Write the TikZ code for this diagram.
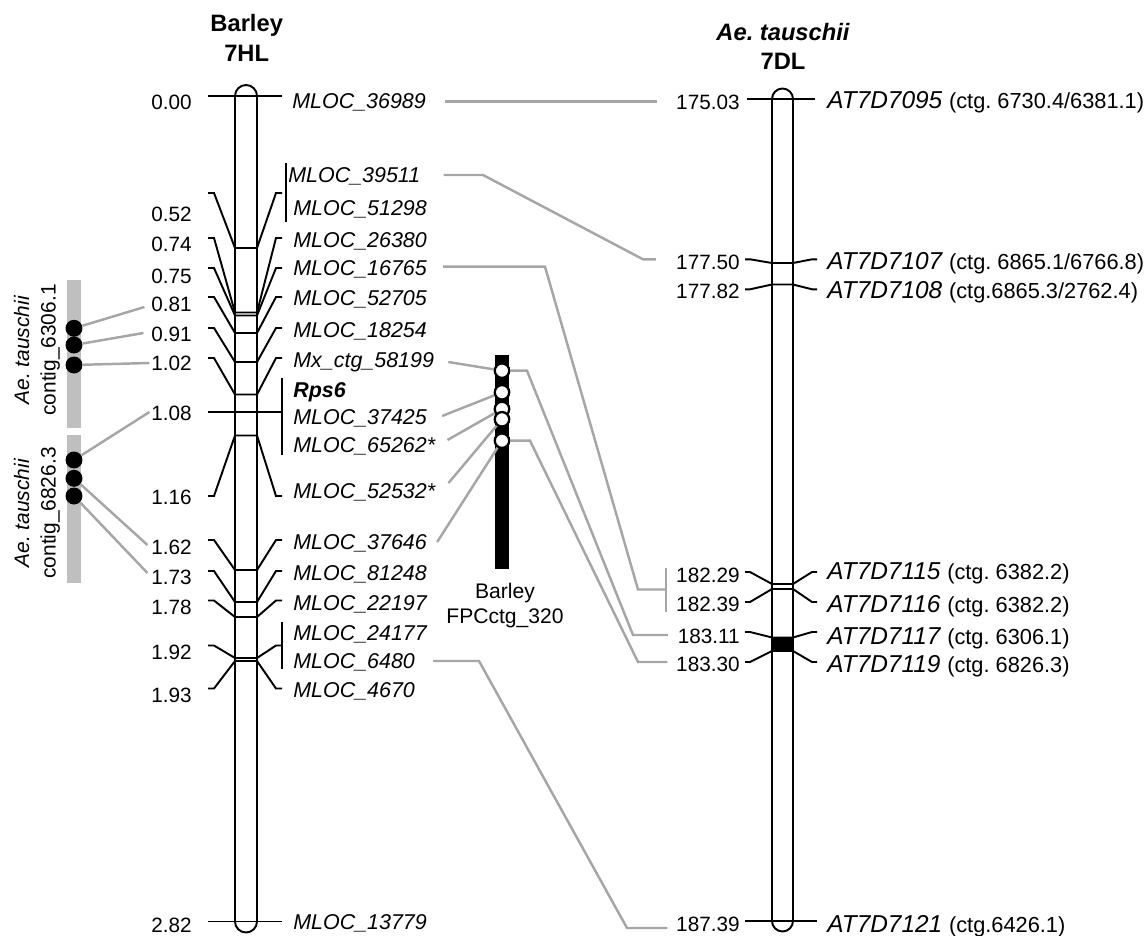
\documentclass[tikz,border=0pt]{standalone}
\usepackage{fontspec}
\setmainfont{Liberation Sans}
\usetikzlibrary{calc}
\definecolor{linkgray}{RGB}{166,166,166}
\definecolor{bargray}{RGB}{191,191,191}
\frenchspacing
\newcommand{\ctgnote}[1]{{\upshape\fontsize{12.4}{15}\selectfont #1}}

\begin{document}
\begin{tikzpicture}[x=0.02cm, y=-0.02cm,
    mapline/.style={line width=1.1pt},
    chrom/.style={draw, line width=1.1pt},
    link/.style={draw=linkgray, line width=1.4pt},
    cmlabel/.style={anchor=east, inner sep=0pt, font=\fontsize{11.8}{14}\selectfont, text height=8.45pt, text depth=0pt},
    locus/.style={anchor=west, inner sep=0pt, font=\fontsize{12.2}{14}\selectfont\itshape, text height=8.7pt, text depth=0pt},
    atlocus/.style={anchor=west, inner sep=0pt, font=\fontsize{13.9}{16}\selectfont\itshape, text height=9.95pt, text depth=0pt},
    heading/.style={inner sep=0pt, font=\fontsize{13.5}{16}\selectfont\bfseries, text height=9.7pt, text depth=0pt},
    contig/.style={inner sep=0pt, align=center, rotate=90, font=\fontsize{11.9}{15}\selectfont},
    ctgdot/.style={circle, fill=black, minimum size=0.34cm, inner sep=0pt},
    fpcdot/.style={circle, draw, fill=white, line width=1.3pt, minimum size=0.29cm, inner sep=0pt}
]
\useasboundingbox (0,0) rectangle (1146,936);

% headings
\node[heading] (tbar) at (246.7,23) {Barley};
\node[heading] (t7hl) at (246.7,52.5) {7HL};
\node[heading] (tae) at (783,31.7) {\itshape Ae. tauschii};
\node[heading] (t7dl) at (783,60.7) {7DL};

% barley 7HL
\draw[chrom] (235,96) -- (235,921.5) arc[start angle=180, end angle=360, radius=0.22cm]
    -- (257,96) arc[start angle=0, end angle=180, radius=0.22cm] -- cycle;
\draw[mapline] (208,96) -- (282,96) (208,412) -- (282,412) (208,921.5) -- (282,921.5);
\foreach \m/\s in {248/193, 312.5/238, 315.5/268, 333/297, 362/328, 394.5/358,
    435.5/496, 570/540, 602/571, 617/600.5, 658/645.5, 661/688.5}
    \draw[mapline] (208,\s) -- (214,\s) -- (235,\m) -- (257,\m) -- (276,\s) -- (282,\s);
\draw[mapline] (286,163) -- (286,222) (282,378) -- (282,455) (282,622) -- (282,669);

\node[cmlabel] (h000) at (192,102) {0.00};
\node[cmlabel] (h052) at (192,214) {0.52};
\node[cmlabel] (h074) at (192,244) {0.74};
\node[cmlabel] (h075) at (192,276) {0.75};
\node[cmlabel] (h081) at (192,304) {0.81};
\node[cmlabel] (h091) at (192,334) {0.91};
\node[cmlabel] (h102) at (192,363) {1.02};
\node[cmlabel] (h108) at (192,413) {1.08};
\node[cmlabel] (h116) at (192,497) {1.16};
\node[cmlabel] (h162) at (192,547) {1.62};
\node[cmlabel] (h173) at (192,577) {1.73};
\node[cmlabel] (h178) at (192,607) {1.78};
\node[cmlabel] (h192) at (192,652) {1.92};
\node[cmlabel] (h193) at (192,695) {1.93};
\node[cmlabel] (h282) at (192,925) {2.82};

\node[locus] (m36989) at (292,101) {MLOC\_36989};
\node[locus] (m39511) at (288,175) {MLOC\_39511};
\node[locus] (m51298) at (293,208) {MLOC\_51298};
\node[locus] (m26380) at (293,240) {MLOC\_26380};
\node[locus] (m16765) at (293,268) {MLOC\_16765};
\node[locus] (m52705) at (293,298) {MLOC\_52705};
\node[locus] (m18254) at (293,330) {MLOC\_18254};
\node[locus] (m58199) at (293,360) {Mx\_ctg\_58199};
\node[locus] (rps6) at (293,390) {\bfseries Rps6};
\node[locus] (m37425) at (293,417) {MLOC\_37425};
\node[locus] (m65262) at (293,445) {MLOC\_65262*};
\node[locus] (m52532) at (293,491) {MLOC\_52532*};
\node[locus] (m37646) at (293,542) {MLOC\_37646};
\node[locus] (m81248) at (293,573) {MLOC\_81248};
\node[locus] (m22197) at (293,603) {MLOC\_22197};
\node[locus] (m24177) at (293,633) {MLOC\_24177};
\node[locus] (m6480) at (293,661) {MLOC\_6480};
\node[locus] (m4670) at (293,690) {MLOC\_4670};
\node[locus] (m13779) at (293,922) {MLOC\_13779};

% Ae. tauschii 7DL
\draw[chrom] (772,99) -- (772,921) arc[start angle=180, end angle=360, radius=0.21cm]
    -- (793,99) arc[start angle=0, end angle=180, radius=0.21cm] -- cycle;
\draw[mapline] (747,99) -- (815,99) (745,921) -- (817,921);
\foreach \m/\s in {263/259.3, 284.5/289.3, 584/572, 589/602, 637.5/632, 651/662}
    \draw[mapline] (745,\s) -- (750,\s) -- (772,\m) -- (793,\m) -- (812,\s) -- (817,\s);
\fill (772,637.5) rectangle (793,651);

\node[cmlabel] (r17503) at (740,101.7) {175.03};
\node[cmlabel] (r17750) at (740,261.7) {177.50};
\node[cmlabel] (r17782) at (740,291.5) {177.82};
\node[cmlabel] (r18229) at (740,575) {182.29};
\node[cmlabel] (r18239) at (740,604) {182.39};
\node[cmlabel] (r18311) at (740,636) {183.11};
\node[cmlabel] (r18330) at (740,664) {183.30};
\node[cmlabel] (r18739) at (740,924) {187.39};

\node[atlocus] (a7095) at (827,100) {AT7D7095 \ctgnote{(ctg. 6730.4/6381.1)}};
\node[atlocus] (a7107) at (827,261) {AT7D7107 \ctgnote{(ctg. 6865.1/6766.8)}};
\node[atlocus] (a7108) at (827,290) {AT7D7108 \ctgnote{(ctg.6865.3/2762.4)}};
\node[atlocus] (a7115) at (827,571) {AT7D7115 \ctgnote{(ctg. 6382.2)}};
\node[atlocus] (a7116) at (827,604) {AT7D7116 \ctgnote{(ctg. 6382.2)}};
\node[atlocus] (a7117) at (827,636) {AT7D7117 \ctgnote{(ctg. 6306.1)}};
\node[atlocus] (a7119) at (827,664) {AT7D7119 \ctgnote{(ctg. 6826.3)}};
\node[atlocus] (a7121) at (827,924) {AT7D7121 \ctgnote{(ctg.6426.1)}};

% Ae. tauschii contigs
\fill[bargray] (66.7,280) rectangle (81,428);
\fill[bargray] (66.7,435) rectangle (81,583);
\node[ctgdot] (cd1) at (74,328.3) {};
\node[ctgdot] (cd2) at (74,345) {};
\node[ctgdot] (cd3) at (74,365) {};
\node[ctgdot] (cd4) at (74,460) {};
\node[ctgdot] (cd5) at (74,478.3) {};
\node[ctgdot] (cd6) at (74,496) {};
\node[contig] (ctg61) at (37,350) {\textit{Ae. tauschii}\\contig\_6306.1};
\node[contig] (ctg68) at (37,513) {\textit{Ae. tauschii}\\contig\_6826.3};

% barley FPC contig
\fill (495,355) rectangle (509,569);
\node[fpcdot] (fd1) at (502,370.7) {};
\node[fpcdot] (fd2) at (502,392.3) {};
\node[fpcdot] (fd3) at (502,409) {};
\node[fpcdot] (fd4) at (502,419.3) {};
\node[fpcdot] (fd5) at (502,440.7) {};
\node[inner sep=0pt, align=center, font=\fontsize{12}{14.2}\selectfont] (fpc) at (505,606) {Barley\\FPCctg\_320};

% links
\draw[link] (cd1) -- ($(h081.west)+(-6.5,3)$);
\draw[link] (cd2) -- ($(h091.west)+(-7.5,-1)$);
\draw[link] (cd3) -- ($(h102.west)+(-1.5,0)$);
\draw[link] (cd4) -- ($(h108.west)+(-1.5,-1)$);
\draw[link] (cd5) -- ($(h162.west)+(-3.5,-2)$);
\draw[link] (cd6) -- ($(h173.west)+(-3.5,-4)$);

\draw[link] ($(m58199.east)+(14,2)$) -- (fd1);
\draw[link] ($(m37425.east)+(15,-1)$) -- (fd2);
\draw[link] ($(m65262.east)+(12,-5)$) -- (fd3);
\draw[link] ($(m52532.east)+(13,-8)$) -- (fd4);
\draw[link] ($(m37646.east)+(10,0)$) -- (fd5);

\draw[link] ($(m36989.east)+(19,0.7)$) -- ($(r17503.west)+(-18.4,0)$);
\draw[link] ($(m39511.east)+(23,0)$) -- (483,175) -- (643,259.3) -- ($(r17750.west)+(-20,-2.4)$);
\draw[link] ($(m16765.east)+(16,-1.3)$) -- (545,266.7) -- (638,589.5)
    -- ($(r18229.west)!0.5!(r18239.west)+(-10,0)$);
\draw[link] ($(r18229.west)+(-10,-7)$) -- ($(r18239.west)+(-10,8)$);
\draw[link] (fd1) -- (527,370.7) -- (633,635) -- ($(r18311.west)+(-9.5,-1)$);
\draw[link] (fd5) -- (530,440.7) -- (638,662) -- ($(r18330.west)+(-8.5,-2)$);
\draw[link] ($(m6480.east)+(18,0)$) -- (479,661) -- (627,928) -- ($(r18739.west)+(-8.5,4)$);
\end{tikzpicture}
\end{document}
